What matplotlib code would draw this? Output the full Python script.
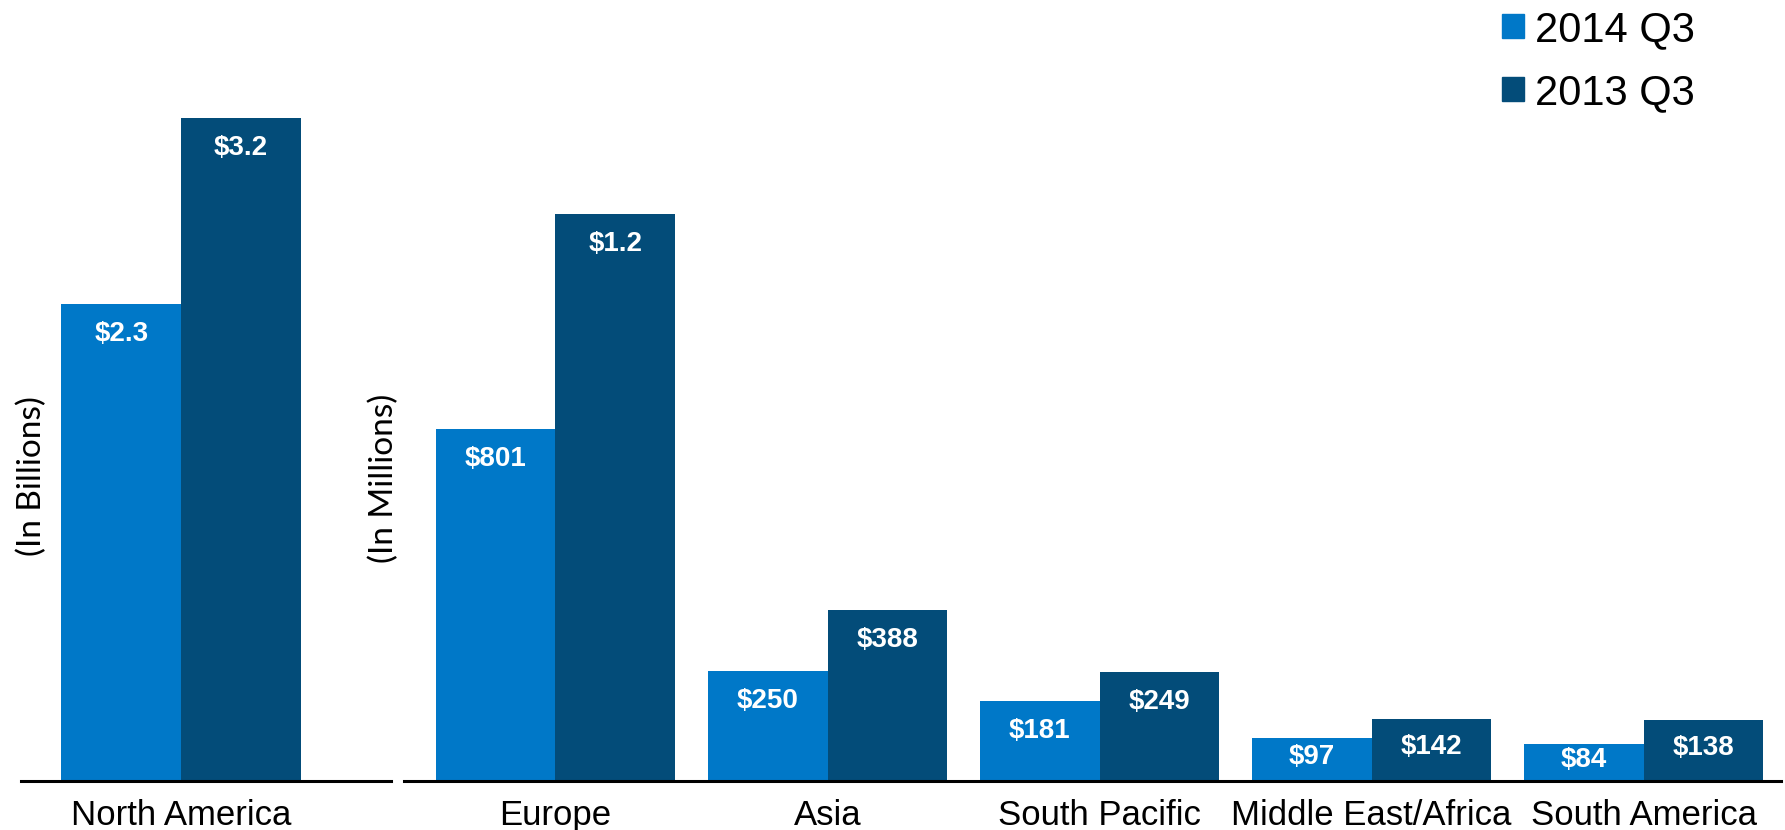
import numpy as np
import matplotlib
matplotlib.use('Agg')
import matplotlib.pyplot as plt
from matplotlib.patches import Patch

plt.rcParams['font.family'] = ['Liberation Sans', 'DejaVu Sans']

# left panel (billions)
na_region = ['North America']
na_2014 = [2.3]
na_2013 = [3.2]
na_labels_2014 = ['$2.3']
na_labels_2013 = ['$3.2']

# right panel (millions)
regions = ['Europe', 'Asia', 'South Pacific', 'Middle East/Africa', 'South America']
q3_2014 = [801, 250, 181, 97, 84]
q3_2013 = [1290, 388, 249, 142, 138]
labels_2014 = ['$801', '$250', '$181', '$97', '$84']
labels_2013 = ['$1.2', '$388', '$249', '$142', '$138']

series_names = ['2014 Q3', '2013 Q3']
c_light = '#0078C8'
c_dark = '#034C79'

fig = plt.figure(figsize=(17.85, 8.3), dpi=100)
ax1 = fig.add_axes([0.0115, 0.059, 0.2073, 0.8807])
ax2 = fig.add_axes([0.2263, 0.059, 0.7715, 0.8807])

w = 0.44


def draw(ax, cats, v14, v13, l14, l13, ymax, xlim):
    x = np.arange(len(cats))
    ax.bar(x - w / 2, v14, w, color=c_light)
    ax.bar(x + w / 2, v13, w, color=c_dark)
    ax.set_xlim(*xlim)
    ax.set_ylim(0, ymax)
    for s in ['top', 'right', 'left']:
        ax.spines[s].set_visible(False)
    ax.spines['bottom'].set_linewidth(2.2)
    ax.set_yticks([])
    ax.set_xticks(x)
    ax.set_xticklabels(cats, fontsize=25)
    ax.tick_params(axis='x', length=0, pad=13)
    # pixels per data unit
    px_per = ax.bbox.height / ymax
    for xs, vals, labs in [(x - w / 2, v14, l14), (x + w / 2, v13, l13)]:
        for xi, v, lab in zip(xs, vals, labs):
            hpx = v * px_per
            off = min(30, hpx / 2 - 3)
            ax.annotate(lab, xy=(xi, v), xytext=(0, -off * 72 / fig.dpi),
                        textcoords='offset points', ha='center', va='center',
                        color='white', fontweight='bold', fontsize=20)


draw(ax1, na_region, na_2014, na_2013, na_labels_2014, na_labels_2013,
     3.528, (-0.590, 0.770))
draw(ax2, regions, q3_2014, q3_2013, labels_2014, labels_2013,
     1663, (-0.557, 4.505))

fig.text(32 / 1785, 1 - 476 / 830, '(In Billions)', rotation=90, ha='center', va='center',
         family=['Lato', 'DejaVu Sans'], fontsize=24)
fig.text(384 / 1785, 1 - 478 / 830, '(In Millions)', rotation=90, ha='center', va='center',
         family=['Lato', 'DejaVu Sans'], fontsize=24)

handles = [Patch(color=c_light), Patch(color=c_dark)]
fig.legend(handles, series_names, loc='upper left', bbox_to_anchor=(0.8415, 0.988),
           frameon=False, fontsize=30, borderpad=0, borderaxespad=0,
           handlelength=0.53, handleheight=0.53, handletextpad=0.26,
           labelspacing=0.55)

fig.savefig('out.png', dpi=100)
